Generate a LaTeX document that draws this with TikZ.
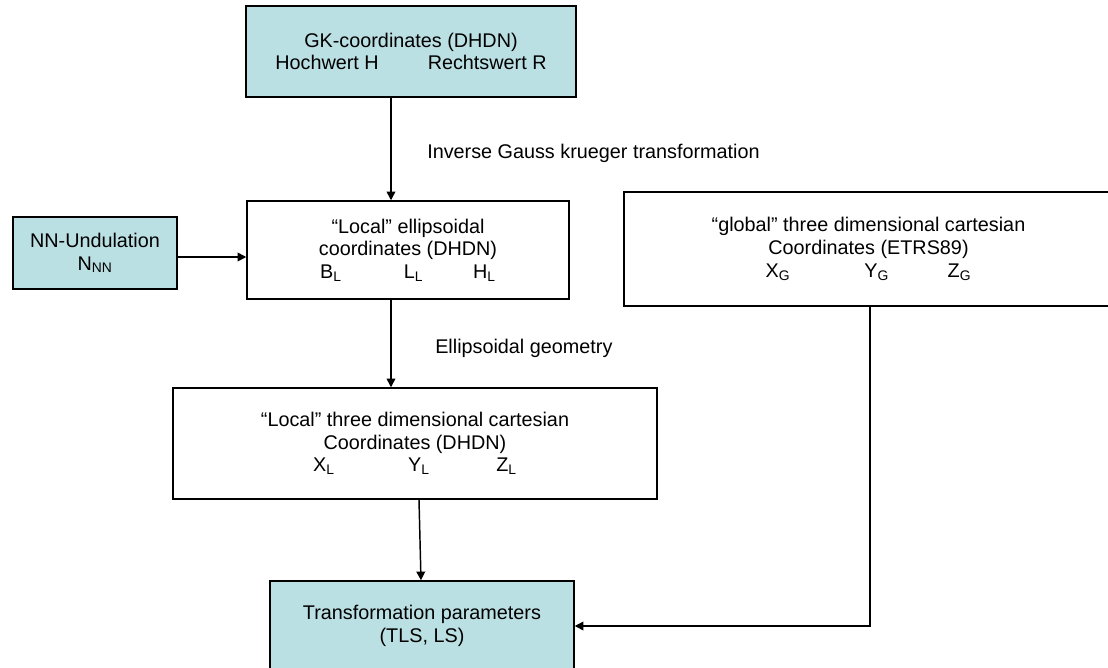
\documentclass[tikz,border=0pt]{standalone}
\usepackage{fontspec}
\setmainfont{Liberation Sans}
\usetikzlibrary{arrows.meta}
\definecolor{boxfill}{RGB}{187,224,227}
\begin{document}
\begin{tikzpicture}[x=0.75pt,y=-0.75pt,
  font=\fontsize{14.85}{17}\selectfont,
  box/.style={draw=black, line width=1.1pt, rectangle, align=center, inner sep=0pt},
  shaded/.style={box, fill=boxfill},
  plain/.style={box, fill=white},
  arr/.style={-{Triangle[length=6.5pt,width=6.5pt]}, line width=1.1pt},
  lbl/.style={anchor=west, inner sep=0pt}]
\useasboundingbox (0,0) rectangle (1108,668);

% coordinate boxes
\node[shaded, minimum width=247.5pt, minimum height=68.25pt] (gk) at (411,51.5)
  {GK-coordinates (DHDN)\\Hochwert H\hspace{36.75pt}Rechtswert R};
\node[shaded, minimum width=123pt, minimum height=54pt] (nn) at (95,253)
  {NN-Undulation\\N\textsubscript{NN}};
\node[plain, minimum width=241.5pt, minimum height=73.5pt] (le) at (408,250)
  {“Local” ellipsoidal\\coordinates (DHDN)\\B\textsubscript{L}\hspace{46.5pt}L\textsubscript{L}\hspace{37.5pt}H\textsubscript{L}};
\node[plain, minimum width=366.75pt, minimum height=85.5pt] (gl) at (868.5,249)
  {“global” three dimensional cartesian\\Coordinates (ETRS89)\\X\textsubscript{G}\hspace{55.5pt}Y\textsubscript{G}\hspace{44pt}Z\textsubscript{G}};
\node[plain, minimum width=363pt, minimum height=83.25pt] (lc) at (415,443.5)
  {“Local” three dimensional cartesian\\Coordinates (DHDN)\\X\textsubscript{L}\hspace{55pt}Y\textsubscript{L}\hspace{50pt}Z\textsubscript{L}};
\node[shaded, minimum width=228pt, minimum height=67.5pt] (tp) at (422,626)
  {Transformation parameters\\(TLS, LS)};

% step labels
\node[lbl] (inv) at (427,153) {Inverse Gauss krueger transformation};
\node[lbl] (ell) at (435,348) {Ellipsoidal geometry};

% connectors
\coordinate (c1) at (391,0);
\coordinate (c2) at (0,257);
\coordinate (c3) at (419,0);
\coordinate (c4) at (421,0);
\coordinate (c5) at (870,0);
\draw[arr] (gk.south -| c1) -- (le.north -| c1);
\draw[arr] (le.south -| c1) -- (lc.north -| c1);
\draw[arr] (nn.east |- c2) -- (le.west |- c2);
\draw[arr] (lc.south -| c3) -- (tp.north -| c4);
\draw[arr] (gl.south -| c5) |- (tp.east);
\end{tikzpicture}
\end{document}
